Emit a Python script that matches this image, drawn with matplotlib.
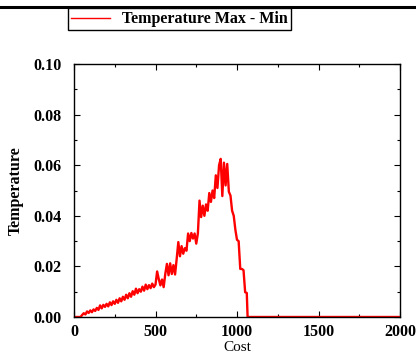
import matplotlib.pyplot as plt
from matplotlib.lines import Line2D

# Cost grid (step 10 up to 1060), then drop to zero and flat to 2000
cost = list(range(0, 1070, 10)) + [1065, 2000]
temp = [
    0.0, 0.0, 0.0, 0.0, 0.0, 0.0008, 0.0015, 0.0010, 0.0022, 0.0016,   # 0-90
    0.0026, 0.0019, 0.0030, 0.0024, 0.0036, 0.0028, 0.0046, 0.0034, 0.0048, 0.0040,  # 100-190
    0.0052, 0.0042, 0.0058, 0.0047, 0.0062, 0.0052, 0.0068, 0.0056, 0.0074, 0.0062,  # 200-290
    0.0080, 0.0068, 0.0088, 0.0074, 0.0094, 0.0080, 0.0102, 0.0088, 0.0112, 0.0094,  # 300-390
    0.0110, 0.0100, 0.0120, 0.0104, 0.0128, 0.0110, 0.0126, 0.0114, 0.0132, 0.0118,  # 400-490
    0.0128, 0.0180, 0.0150, 0.0125, 0.0148, 0.0118, 0.0170, 0.0210, 0.0165, 0.0212,  # 500-590
    0.0170, 0.0205, 0.0168, 0.0230, 0.0296, 0.0240, 0.0280, 0.0250, 0.0272, 0.0262,  # 600-690
    0.0330, 0.0300, 0.0332, 0.0310, 0.0330, 0.0290, 0.0330, 0.0460, 0.0395, 0.0440,  # 700-790
    0.0400, 0.0445, 0.0420, 0.0490, 0.0455, 0.0500, 0.0470, 0.0560, 0.0510, 0.0600,  # 800-890
    0.0625, 0.0478, 0.0610, 0.0520, 0.0605, 0.0495, 0.0480, 0.0420, 0.0400, 0.0345,  # 900-990
    0.0305, 0.0300, 0.0190, 0.0190, 0.0185, 0.0098, 0.0095,                          # 1000-1060
    0.0, 0.0,
]

xticks = [0, 500, 1000, 1500, 2000]
yticks = [0.00, 0.02, 0.04, 0.06, 0.08, 0.10]

plt.rcParams['font.family'] = ['Liberation Serif', 'DejaVu Serif']

fig = plt.figure(figsize=(4.16, 3.58), dpi=100)
ax = fig.add_axes([74/416, 41/358, 326/416, 253/358])

ax.plot(cost, temp, color='#ff0000', lw=1.7, label='Temperature Max - Min')

ax.set_xlim(0, 2000)
ax.set_ylim(0, 0.10)
ax.set_xticks(xticks)
ax.set_xticklabels([str(v) for v in xticks], fontweight='bold', fontsize=11.5)
ax.set_yticks(yticks)
ax.set_yticklabels(['%.2f' % v for v in yticks], fontweight='bold', fontsize=11.5)
ax.set_xticks(range(250, 2000, 500), minor=True)
ax.set_yticks([0.01, 0.03, 0.05, 0.07, 0.09], minor=True)
ax.tick_params(which='both', direction='in', top=True, right=True, width=0.8)
ax.tick_params(which='major', length=4)
ax.tick_params(which='minor', length=2.5)
ax.tick_params(axis='y', pad=9)
ax.tick_params(axis='x', pad=5)
for s in ax.spines.values():
    s.set_linewidth(1.0)

ax.set_xlabel('Cost', fontsize=11, labelpad=1)
ax.set_ylabel('Temperature', fontsize=11.5, fontweight='bold', labelpad=7)

leg = fig.legend(loc='upper left', bbox_to_anchor=(68/416, 1 - 8/358),
                 prop={'weight': 'bold', 'size': 11.5}, frameon=True, fancybox=False,
                 edgecolor='black', framealpha=1, borderpad=0.2, handlelength=2.4,
                 handletextpad=0.8, borderaxespad=0)
leg.get_lines()[0].set_linewidth(1.0)

# top rule
fig.add_artist(Line2D([0, 0.995], [1 - 7/358, 1 - 7/358], color='black', lw=2.2))

fig.savefig('out.png', dpi=100)
